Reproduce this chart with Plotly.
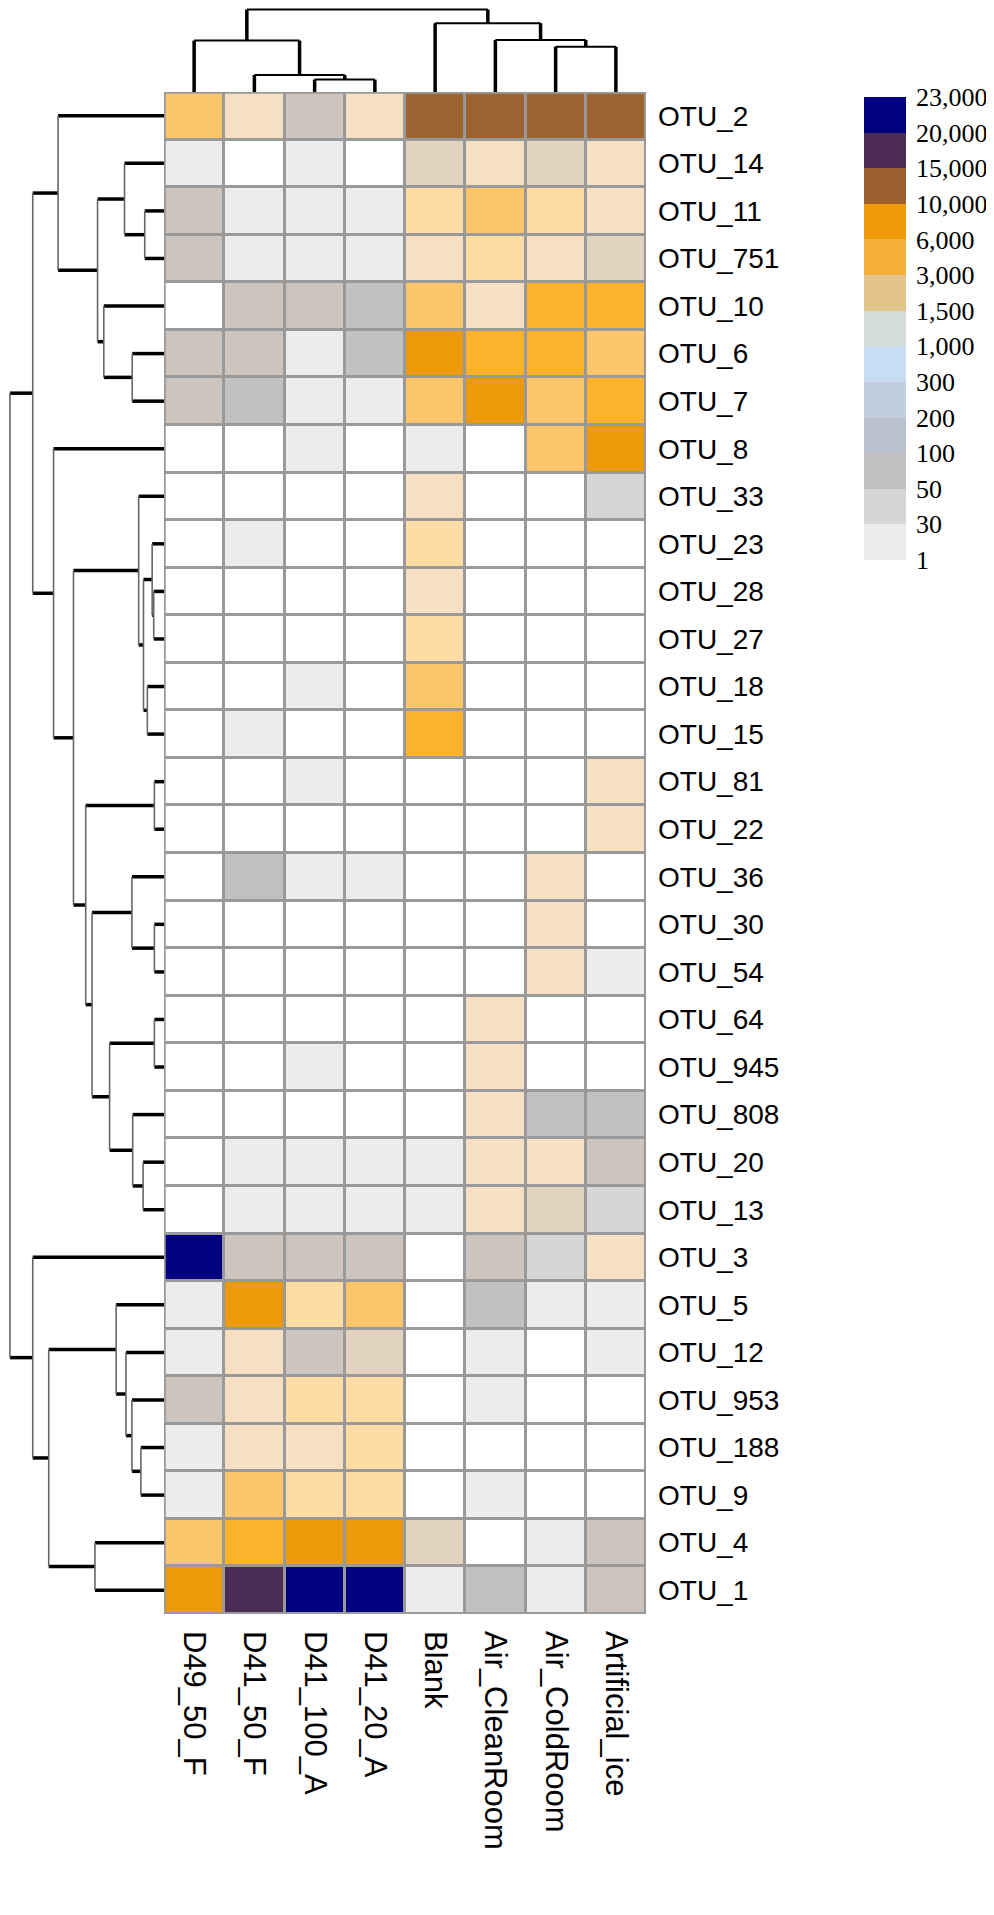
import numpy as np
import plotly.graph_objects as go

# Samples (columns) and OTUs (rows), in dendrogram order
samples = ["D49_50_F", "D41_50_F", "D41_100_A", "D41_20_A",
           "Blank", "Air_CleanRoom", "Air_ColdRoom", "Artificial_ice"]

otus = ["OTU_2", "OTU_14", "OTU_11", "OTU_751", "OTU_10", "OTU_6", "OTU_7", "OTU_8",
        "OTU_33", "OTU_23", "OTU_28", "OTU_27", "OTU_18", "OTU_15", "OTU_81", "OTU_22",
        "OTU_36", "OTU_30", "OTU_54", "OTU_64", "OTU_945", "OTU_808", "OTU_20", "OTU_13",
        "OTU_3", "OTU_5", "OTU_12", "OTU_953", "OTU_188", "OTU_9", "OTU_4", "OTU_1"]

# read counts (estimated from cell colour bins)
counts = [
    [2200, 600, 150, 600, 12000, 12500, 11800, 12200],
    [12, 0, 8, 0, 240, 450, 260, 520],
    [160, 14, 9, 11, 1300, 2100, 1250, 700],
    [140, 10, 12, 9, 650, 1200, 580, 260],
    [0, 130, 150, 80, 2400, 500, 4200, 4600],
    [170, 150, 15, 70, 7800, 4400, 4100, 2300],
    [150, 85, 12, 8, 2500, 7600, 2200, 3900],
    [0, 0, 6, 0, 10, 0, 2600, 7200],
    [0, 0, 0, 0, 550, 0, 0, 40],
    [0, 7, 0, 0, 1100, 0, 0, 0],
    [0, 0, 0, 0, 800, 0, 0, 0],
    [0, 0, 0, 0, 1150, 0, 0, 0],
    [0, 0, 9, 0, 2000, 0, 0, 0],
    [0, 5, 0, 0, 3600, 0, 0, 0],
    [0, 0, 8, 0, 0, 0, 0, 700],
    [0, 0, 0, 0, 0, 0, 0, 650],
    [0, 70, 10, 6, 0, 0, 620, 0],
    [0, 0, 0, 0, 0, 0, 560, 0],
    [0, 0, 0, 0, 0, 0, 480, 14],
    [0, 0, 0, 0, 0, 520, 0, 0],
    [0, 0, 7, 0, 0, 450, 0, 0],
    [0, 0, 0, 0, 0, 430, 65, 60],
    [0, 12, 10, 9, 8, 480, 420, 120],
    [0, 9, 11, 8, 6, 390, 220, 35],
    [22000, 160, 140, 130, 0, 110, 45, 340],
    [20, 7000, 1300, 2400, 0, 90, 12, 15],
    [18, 800, 150, 210, 0, 10, 0, 8],
    [120, 700, 1100, 1050, 0, 6, 0, 0],
    [15, 500, 650, 1100, 0, 0, 0, 0],
    [14, 1800, 1200, 1300, 0, 9, 0, 0],
    [2800, 5200, 8500, 9000, 230, 0, 20, 140],
    [6500, 16500, 22800, 22500, 12, 55, 16, 160],
]

# colour bins used in the cells
bin_edges = [1, 30, 50, 100, 200, 300, 1000, 1500, 3000, 6000, 10000, 15000, 20000]
cell_colors = ["#ffffff", "#ececec", "#d6d6d6", "#c1c1c1", "#cdc5bd", "#e2d2c0", "#f7dfc4",
               "#fedca4", "#fec66a", "#fdb22c", "#ec9a0a", "#9b6431", "#4a2d55", "#000080"]

# legend key
legend_labels = ["1", "30", "50", "100", "200", "300", "1,000", "1,500", "3,000",
                 "6,000", "10,000", "15,000", "20,000", "23,000"]
legend_colors = ["#ebebeb", "#d6d6d6", "#c0c0c0", "#b9c1ce", "#c2cee0", "#c8dcf4", "#d5dcdc",
                 "#e3c48c", "#f4b03a", "#ee9a0a", "#9b6030", "#4b2d55", "#000080"]

# dendrograms: (node, left, right, height)
row_tree = [
    ("r1", "OTU_11", "OTU_751", 20), ("r2", "OTU_14", "r1", 41),
    ("r3", "OTU_6", "OTU_7", 33), ("r4", "OTU_10", "r3", 62.5),
    ("r5", "r2", "r4", 69), ("rA", "OTU_2", "r5", 110),
    ("r6", "OTU_28", "OTU_27", 10.7), ("r7", "OTU_23", "r6", 12.3),
    ("r8", "OTU_18", "OTU_15", 17.3), ("r9", "r7", "r8", 21.3),
    ("r10", "OTU_33", "r9", 26.3), ("r11", "OTU_81", "OTU_22", 10),
    ("r12", "OTU_30", "OTU_54", 10), ("r13", "OTU_36", "r12", 33.3),
    ("r14", "OTU_64", "OTU_945", 10), ("r15", "OTU_20", "OTU_13", 21.7),
    ("r16", "OTU_808", "r15", 32.5), ("r17", "r14", "r16", 56.5),
    ("r18", "r13", "r17", 74.7), ("rE", "r11", "r18", 81.3),
    ("rD", "r10", "rE", 94), ("rC", "OTU_8", "rD", 114.7),
    ("rB", "rA", "rC", 136.3),
    ("r19", "OTU_188", "OTU_9", 24), ("r20", "OTU_953", "r19", 33.3),
    ("r21", "OTU_12", "r20", 39.5), ("r22", "OTU_5", "r21", 49.7),
    ("r23", "OTU_4", "OTU_1", 71.7), ("rG", "r22", "r23", 119.7),
    ("rF", "OTU_3", "rG", 136.3), ("root", "rB", "rF", 160),
]
col_tree = [
    ("c1", "D41_100_A", "D41_20_A", 13.6), ("c2", "D41_50_F", "c1", 18.6),
    ("c3", "D49_50_F", "c2", 56.3), ("c4", "Air_ColdRoom", "Artificial_ice", 49.6),
    ("c5", "Air_CleanRoom", "c4", 56.9), ("c6", "Blank", "c5", 75.3),
    ("root", "c3", "c6", 90.3),
]


def dendro(tree, leaves):
    pos = {name: (i, 0.0) for i, name in enumerate(leaves)}
    leg_p, leg_h, bar_p, bar_h = [], [], [], []
    for node, a, b, h in tree:
        (pa, ha), (pb, hb) = pos[a], pos[b]
        leg_p += [pa, pa, None, pb, pb, None]
        leg_h += [ha, h, None, hb, h, None]
        bar_p += [pa, pb, None]
        bar_h += [h, h, None]
        pos[node] = ((pa + pb) / 2, h)
    return leg_p, leg_h, bar_p, bar_h


# page is drawn inside the browser's 8px body margin
W, H = 978, 1899


def fx(px):
    return (px - 8) / W


def fy(px):
    return 1 - (px - 8) / H


hm_x = [fx(164), fx(646)]
hm_y = [fy(1614), fy(92)]
sans = "Liberation Sans, Arial, sans-serif"
serif = "Liberation Serif, Times New Roman, serif"

fig = go.Figure()

# main heatmap
levels = np.digitize(np.array(counts), bin_edges)
n = len(cell_colors)
scale = []
for i, c in enumerate(cell_colors):
    scale += [[i / n, c], [(i + 1) / n, c]]
fig.add_trace(go.Heatmap(z=levels, x=list(range(len(samples))), y=list(range(len(otus))),
                         colorscale=scale, zmin=-0.5, zmax=n - 0.5, showscale=False,
                         xgap=3, ygap=3, hoverinfo="skip"))

# row dendrogram (left)
lp, lh, bp, bh = dendro(row_tree, otus)
fig.add_trace(go.Scatter(x=lh, y=lp, mode="lines", line=dict(color="black", width=3.5),
                         xaxis="x2", yaxis="y2", hoverinfo="skip"))
fig.add_trace(go.Scatter(x=bh, y=bp, mode="lines", line=dict(color="#666666", width=1.6),
                         xaxis="x2", yaxis="y2", hoverinfo="skip"))

# column dendrogram (top)
lp, lh, bp, bh = dendro(col_tree, samples)
fig.add_trace(go.Scatter(x=lp, y=lh, mode="lines", line=dict(color="black", width=3.5),
                         xaxis="x3", yaxis="y3", hoverinfo="skip"))
fig.add_trace(go.Scatter(x=bp, y=bh, mode="lines", line=dict(color="black", width=2),
                         xaxis="x3", yaxis="y3", hoverinfo="skip"))

# legend key
k = len(legend_colors)
kscale = []
for i, c in enumerate(legend_colors):
    kscale += [[i / k, c], [(i + 1) / k, c]]
fig.add_trace(go.Heatmap(z=[[i] for i in range(k)], x=[0], y=[i + 0.5 for i in range(k)],
                         colorscale=kscale, zmin=-0.5, zmax=k - 0.5, showscale=False,
                         xaxis="x4", yaxis="y4", hoverinfo="skip"))

# grey grid behind the cells and border on top
fig.add_shape(type="rect", x0=-0.5, x1=len(samples) - 0.5, y0=-0.5, y1=len(otus) - 0.5,
              xref="x", yref="y", fillcolor="#999999", line=dict(width=0), layer="below")
fig.add_shape(type="rect", x0=-0.5, x1=len(samples) - 0.5, y0=-0.5, y1=len(otus) - 0.5,
              xref="x", yref="y", line=dict(color="#999999", width=3.5))

hide = dict(showgrid=False, zeroline=False, showticklabels=False, ticks="",
            showline=False, automargin=False)
fig.update_layout(
    template="none",
    width=W, height=H, margin=dict(l=0, r=0, t=0, b=0, pad=0), autosize=False,
    paper_bgcolor="white", plot_bgcolor="white", showlegend=False,
    xaxis=dict(domain=hm_x, range=[-0.5, len(samples) - 0.5], tickmode="array",
               tickvals=list(range(len(samples))), ticktext=samples, tickangle=90,
               tickfont=dict(family=sans, size=31, color="black"), ticks="",
               ticklabelstandoff=16, showgrid=False, zeroline=False, showline=False,
               automargin=False),
    yaxis=dict(domain=hm_y, range=[len(otus) - 0.5, -0.5], side="right", tickmode="array",
               tickvals=list(range(len(otus))), ticktext=otus,
               tickfont=dict(family=sans, size=28, color="black"), ticks="",
               ticklabelstandoff=11, showgrid=False, zeroline=False, showline=False,
               automargin=False),
    xaxis2=dict(domain=[fx(8), fx(164)], range=[162, 0], anchor="y2", **hide),
    yaxis2=dict(domain=hm_y, range=[len(otus) - 0.5, -0.5], anchor="x2", **hide),
    xaxis3=dict(domain=hm_x, range=[-0.5, len(samples) - 0.5], anchor="y3", **hide),
    yaxis3=dict(domain=[fy(92), fy(8)], range=[0, 92], anchor="x3", **hide),
    xaxis4=dict(domain=[fx(864), fx(906)], range=[-0.5, 0.5], anchor="y4", **hide),
    yaxis4=dict(domain=[fy(560), fy(97)], range=[0, k], anchor="x4", side="right",
                tickmode="array", tickvals=list(range(k + 1)), ticktext=legend_labels,
                tickfont=dict(family=serif, size=26, color="black"), ticks="",
                ticklabelstandoff=9, showgrid=False, zeroline=False, showline=False,
                automargin=False),
)

fig.write_html("out.html")
